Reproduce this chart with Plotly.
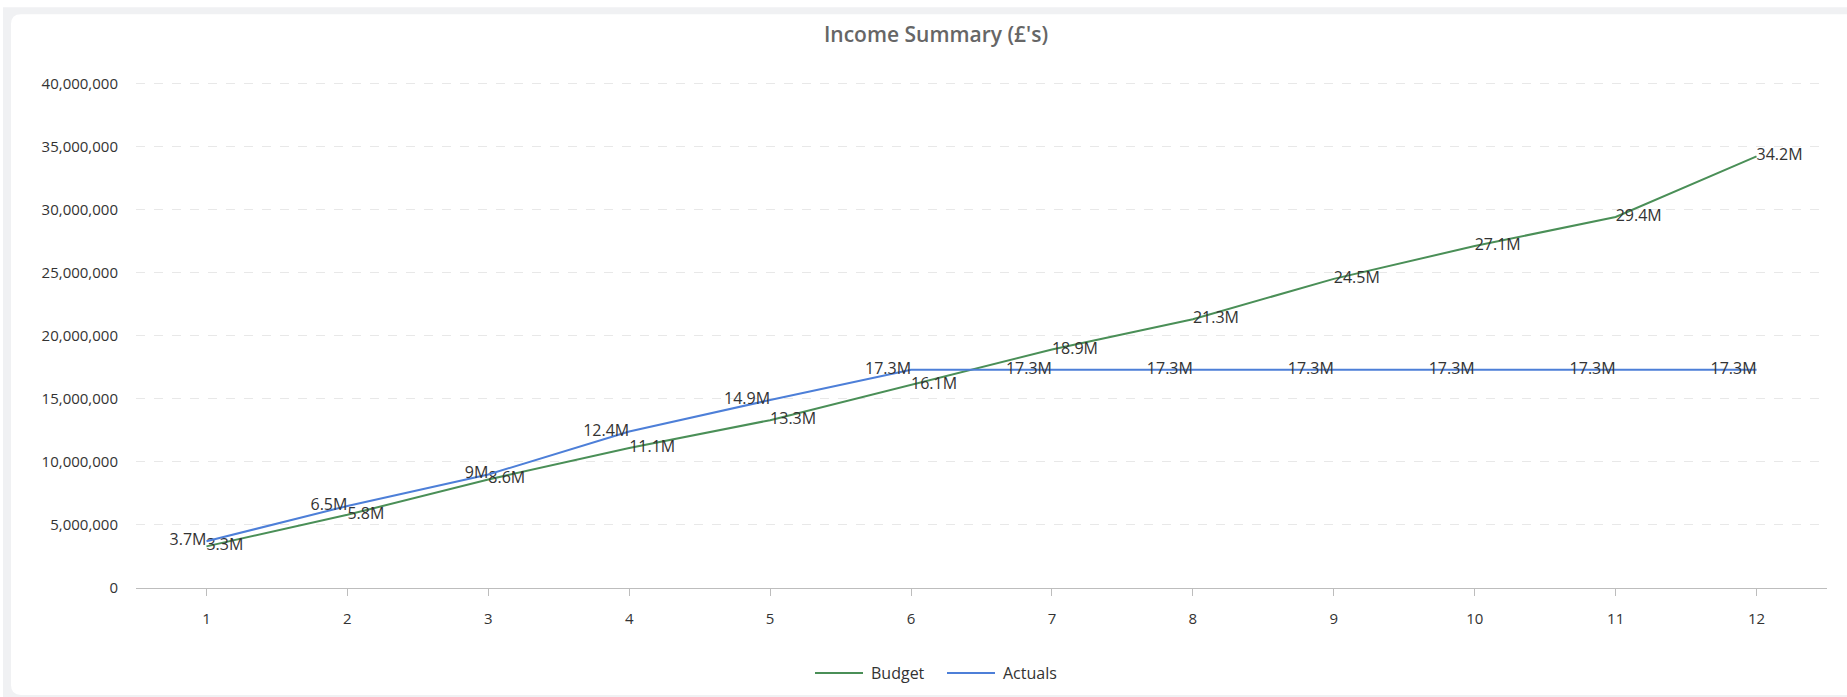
import plotly.graph_objects as go

# Monthly income, cumulative (£)
months = [1, 2, 3, 4, 5, 6, 7, 8, 9, 10, 11, 12]
budget = [3.3e6, 5.8e6, 8.6e6, 11.1e6, 13.3e6, 16.1e6, 18.9e6, 21.3e6,
          24.5e6, 27.1e6, 29.4e6, 34.2e6]
actuals = [3.7e6, 6.5e6, 9.0e6, 12.4e6, 14.9e6, 17.3e6, 17.3e6, 17.3e6,
           17.3e6, 17.3e6, 17.3e6, 17.3e6]
y_ticks = [0, 5e6, 10e6, 15e6, 20e6, 25e6, 30e6, 35e6, 40e6]
series_names = ["Budget", "Actuals"]

W, H = 1847, 697
PL, PR, PB = 136, 1827, 588          # plot area edges in pixels
Y_TOP = 40.1e6                       # small headroom so the 40M grid line shows
PX_PER_UNIT = (588 - 83) / 40e6
PT = PB - Y_TOP * PX_PER_UNIT

FONT = "Open Sans"
GREEN = "#4a8f57"
BLUE = "#4d7fd8"
COLORS = [GREEN, BLUE]


def short(v):
    return f"{v / 1e6:g}M"


def px_x(p):
    return (p - PL) / (PR - PL)


def px_y(p):
    return (PB - p) / (PB - PT)


fig = go.Figure()
fig.add_trace(go.Scatter(
    x=months, y=budget, name=series_names[0], mode="lines+text",
    line=dict(color=GREEN, width=2),
    text=[short(v) for v in budget], textposition="middle right",
    textfont=dict(family=FONT, size=16, color="#333333"),
    cliponaxis=False, showlegend=False,
))
fig.add_trace(go.Scatter(
    x=months, y=actuals, name=series_names[1], mode="lines+text",
    line=dict(color=BLUE, width=2),
    text=[short(v) for v in actuals], textposition="middle left",
    textfont=dict(family=FONT, size=16, color="#333333"),
    cliponaxis=False, showlegend=False,
))

# card background: grey surround with a white rounded panel
x0, y0, x1, y1 = px_x(11), px_y(14), px_x(W + 20), px_y(695)
rx, ry = 10 / (PR - PL), 10 / (PB - PT)
card = (f"M {x0 + rx},{y0} L {x1},{y0} L {x1},{y1} L {x0 + rx},{y1} "
        f"Q {x0},{y1} {x0},{y1 + ry} L {x0},{y0 - ry} Q {x0},{y0} {x0 + rx},{y0} Z")
shapes = [
    dict(type="rect", xref="paper", yref="paper", layer="below",
         x0=px_x(3), y0=px_y(7), x1=px_x(W + 20), y1=px_y(H + 20),
         fillcolor="#f0f1f3", line=dict(width=0)),
    dict(type="path", xref="paper", yref="paper", layer="below",
         path=card, fillcolor="#ffffff", line=dict(width=0)),
]

# legend row below the axis: line swatch followed by the series name
annotations = []
legend_y = 673
swatch_starts = [815, 947]
for start, name, color in zip(swatch_starts, series_names, COLORS):
    shapes.append(dict(type="line", xref="paper", yref="paper",
                       x0=px_x(start), x1=px_x(start + 48),
                       y0=px_y(legend_y), y1=px_y(legend_y),
                       line=dict(color=color, width=2)))
    annotations.append(dict(text=name, xref="paper", yref="paper",
                            x=px_x(start + 54), y=px_y(legend_y),
                            xanchor="left", yanchor="middle", showarrow=False,
                            font=dict(family=FONT, size=16, color="#333333")))

fig.update_layout(
    width=W, height=H,
    margin=dict(l=PL, r=W - PR, t=PT, b=H - PB),
    paper_bgcolor="#ffffff",
    plot_bgcolor="rgba(0,0,0,0)",
    shapes=shapes,
    annotations=annotations,
    title=dict(text="Income Summary (£'s)", x=936 / W,
               xanchor="center", y=1 - 35 / H, yanchor="middle",
               font=dict(family=FONT, size=21, color="#666666", weight=600)),
    showlegend=False,
    font=dict(family=FONT, size=15, color="#333333"),
)

fig.update_xaxes(
    range=[0.5, 12.5], tickmode="array", tickvals=months,
    ticktext=[str(m) for m in months],
    showgrid=False, zeroline=False,
    showline=True, linecolor="#bdbdbd", linewidth=1,
    ticks="outside", ticklen=7, tickcolor="#bdbdbd",
    ticklabelstandoff=10,
    tickfont=dict(family=FONT, size=15, color="#333333"),
)
fig.update_yaxes(
    range=[0, Y_TOP], tickmode="array", tickvals=y_ticks,
    ticktext=[f"{int(v):,}" for v in y_ticks],
    showgrid=True, gridcolor="#e8e8e8", griddash="dash", gridwidth=1,
    zeroline=False, showline=False, ticks="",
    ticklabelstandoff=17,
    tickfont=dict(family=FONT, size=15, color="#333333"),
)

fig.write_html("out.html")
